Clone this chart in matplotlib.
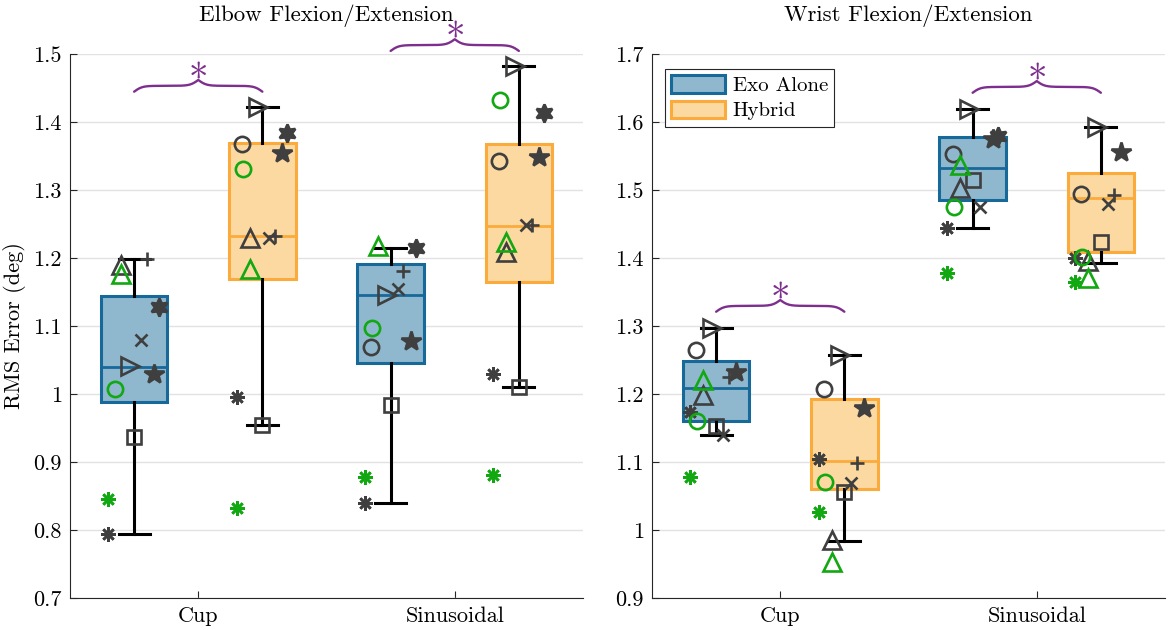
import numpy as np
import matplotlib
matplotlib.use("Agg")
import matplotlib.pyplot as plt
from matplotlib.patches import Patch
from matplotlib.ticker import FuncFormatter

plt.rcParams['font.family'] = ['cmr10', 'DejaVu Serif']
plt.rcParams['axes.formatter.use_mathtext'] = True

# ---------------- data ----------------
categories = ["Cup", "Sinusoidal"]
groups = ["Exo Alone", "Hybrid"]
panel_titles = ["Elbow Flexion/Extension", "Wrist Flexion/Extension"]

# subjects: marker, colour-group
subject_markers = ['o', '^', '>', 's', 'x', '+', '*', (6, 1, 0), (8, 2, 0), 'o', '^', (8, 2, 0)]
subject_green = [False, False, False, False, False, False, False, False, False, True, True, True]
subject_filled = [False, False, False, False, False, False, True, True, False, False, False, False]
subject_jitter = [-0.078, -0.05, -0.016, 0.0, 0.027, 0.05, 0.078, 0.097, -0.10, -0.074, -0.05, -0.10]
subject_size = [11, 13.5, 13.5, 10, 9, 10, 14.5, 13, 10.5, 11, 13.5, 10.5]

nan = np.nan
# Elbow
elbow_cup_exo = [nan, 1.190, 1.041, 0.937, 1.079, 1.198, 1.029, 1.128, 0.794, 1.007, 1.176, 0.846]
elbow_cup_hyb = [1.368, 1.230, 1.422, 0.954, 1.230, 1.232, 1.354, 1.384, 0.996, 1.331, 1.184, 0.833]
elbow_sin_exo = [1.069, nan, 1.146, 0.984, 1.154, 1.181, 1.078, 1.214, 0.839, 1.097, 1.217, 0.878]
elbow_sin_hyb = [1.343, 1.209, 1.482, 1.010, 1.248, 1.249, 1.349, 1.413, 1.030, 1.433, 1.224, 0.881]
# Wrist
wrist_cup_exo = [1.264, 1.1985, 1.297, 1.153, 1.140, 1.225, 1.233, nan, 1.174, 1.161, 1.220, 1.078]
wrist_cup_hyb = [1.207, 0.986, 1.257, 1.056, 1.069, 1.098, 1.179, nan, 1.104, 1.071, 0.953, 1.027]
wrist_sin_exo = [1.553, 1.5025, 1.619, 1.515, 1.4755, nan, 1.575, 1.580, 1.444, 1.4755, 1.537, 1.3775]
wrist_sin_hyb = [1.494, 1.395, 1.593, 1.423, 1.479, 1.493, 1.556, nan, 1.400, 1.401, 1.370, 1.365]

# box statistics: [whislo, q1, med, q3, whishi]
elbow_cup_exo_box = [0.794, 0.9887, 1.040, 1.1446, 1.1985]
elbow_cup_hyb_box = [0.954, 1.169, 1.232, 1.369, 1.422]
elbow_sin_exo_box = [0.839, 1.046, 1.145, 1.191, 1.214]
elbow_sin_hyb_box = [1.010, 1.165, 1.2475, 1.368, 1.482]
wrist_cup_exo_box = [1.140, 1.161, 1.209, 1.249, 1.297]
wrist_cup_hyb_box = [0.984, 1.061, 1.1015, 1.1926, 1.257]
wrist_sin_exo_box = [1.444, 1.485, 1.533, 1.578, 1.619]
wrist_sin_hyb_box = [1.393, 1.409, 1.488, 1.5245, 1.593]

# significance braces: y of the brace tips per category
elbow_sig_tips = [1.4446, 1.5045]
wrist_sig_tips = [1.321, 1.643]

elbow_yticks = [0.7, 0.8, 0.9, 1.0, 1.1, 1.2, 1.3, 1.4, 1.5]
wrist_yticks = [0.9, 1.0, 1.1, 1.2, 1.3, 1.4, 1.5, 1.6, 1.7]

# ---------------- style ----------------
edge_cols = ['#17699A', '#FAAB3C']
face_cols = ['#8FB8CF', '#FDD9A2']
gray = '#3f3f3f'
green = '#12A812'
purple = '#7E2F8E'
axc = '#262626'

fig = plt.figure(figsize=(11.7, 6.3), dpi=100)
ax1 = fig.add_axes([70 / 1170, 1 - 598 / 630, 513 / 1170, 544 / 630])
ax2 = fig.add_axes([652 / 1170, 1 - 598 / 630, 513 / 1170, 544 / 630])

panels = [
    (ax1, [[elbow_cup_exo, elbow_cup_hyb], [elbow_sin_exo, elbow_sin_hyb]],
     [[elbow_cup_exo_box, elbow_cup_hyb_box], [elbow_sin_exo_box, elbow_sin_hyb_box]],
     elbow_sig_tips, elbow_yticks),
    (ax2, [[wrist_cup_exo, wrist_cup_hyb], [wrist_sin_exo, wrist_sin_hyb]],
     [[wrist_cup_exo_box, wrist_cup_hyb_box], [wrist_sin_exo_box, wrist_sin_hyb_box]],
     wrist_sig_tips, wrist_yticks),
]

group_shift = [-0.25, 0.25]
box_width = 0.26


def brace(ax, x0, x1, ytip, h):
    n = 160
    t = np.linspace(0, 1, n)
    beta = 16.0
    yh = 1 / (1 + np.exp(-beta * t)) + 1 / (1 + np.exp(-beta * (t - 1)))
    yfull = np.concatenate([yh, yh[-2::-1]])
    xfull = np.linspace(x0, x1, 2 * n - 1)
    ax.plot(xfull, ytip + (yfull - 0.5) * h, color=purple, lw=1.7,
            clip_on=False, zorder=5, solid_capstyle='round')


for pi, (ax, pts, boxes, tips, yticks) in enumerate(panels):
    for ci in range(len(categories)):
        for gi in range(len(groups)):
            pos = ci + 1 + group_shift[gi]
            s = boxes[ci][gi]
            stats = [dict(whislo=s[0], q1=s[1], med=s[2], q3=s[3], whishi=s[4])]
            ax.bxp(stats, positions=[pos], widths=box_width, patch_artist=True,
                   showfliers=False, capwidths=0.12,
                   boxprops=dict(facecolor=face_cols[gi], edgecolor=edge_cols[gi], lw=2.2),
                   medianprops=dict(color=edge_cols[gi], lw=2.0),
                   whiskerprops=dict(color='k', lw=2.2),
                   capprops=dict(color='k', lw=2.2),
                   manage_ticks=False)
            vals = pts[ci][gi]
            for si, v in enumerate(vals):
                if np.isnan(v):
                    continue
                col = green if subject_green[si] else gray
                ax.plot([pos + subject_jitter[si]], [v], ls='none',
                        marker=subject_markers[si], ms=subject_size[si],
                        mfc=col if subject_filled[si] else 'none', mec=col,
                        mew=1.9, zorder=4)
        # significance brace
        x0 = ci + 1 + group_shift[0]
        x1 = ci + 1 + group_shift[1]
        brace(ax, x0, x1, tips[ci], 0.0172)
        ax.annotate('*', (ci + 1, tips[ci]), xytext=(0, -0.5), textcoords='offset points',
                    ha='center', va='baseline', fontsize=28, color=purple,
                    annotation_clip=False, zorder=6)

    ax.set_xlim(0.5, 2.5)
    ax.set_ylim(yticks[0], yticks[-1])
    ax.set_xticks([1, 2])
    ax.set_xticklabels(categories)
    ax.set_yticks(yticks)
    ax.yaxis.set_major_formatter(FuncFormatter(lambda v, p: '%g' % round(v, 3)))
    ax.tick_params(direction='in', length=5, width=0.8, color=axc, labelsize=16,
                   labelcolor='k', pad=6)
    for sp in ['top', 'right']:
        ax.spines[sp].set_visible(False)
    for sp in ['left', 'bottom']:
        ax.spines[sp].set_color(axc)
        ax.spines[sp].set_linewidth(0.8)
    ax.yaxis.grid(True, color='#e2e2e2', lw=1.0)
    ax.set_axisbelow(True)
    ax.set_title(panel_titles[pi], fontsize=16.5, pad=24)

ax1.set_ylabel('RMS Error (deg)', fontsize=16, labelpad=5)

handles = [Patch(facecolor=face_cols[i], edgecolor=edge_cols[i], lw=2.2, label=groups[i])
           for i in range(2)]
leg = ax2.legend(handles=handles, loc='upper left', bbox_to_anchor=(0.025, 0.972),
                 borderaxespad=0, fancybox=False, edgecolor=axc, framealpha=1,
                 fontsize=15, borderpad=0.3, handlelength=2.6, handleheight=0.9,
                 labelspacing=0.25, handletextpad=0.35)
leg.get_frame().set_linewidth(0.8)

fig.savefig('out.png', dpi=100)
